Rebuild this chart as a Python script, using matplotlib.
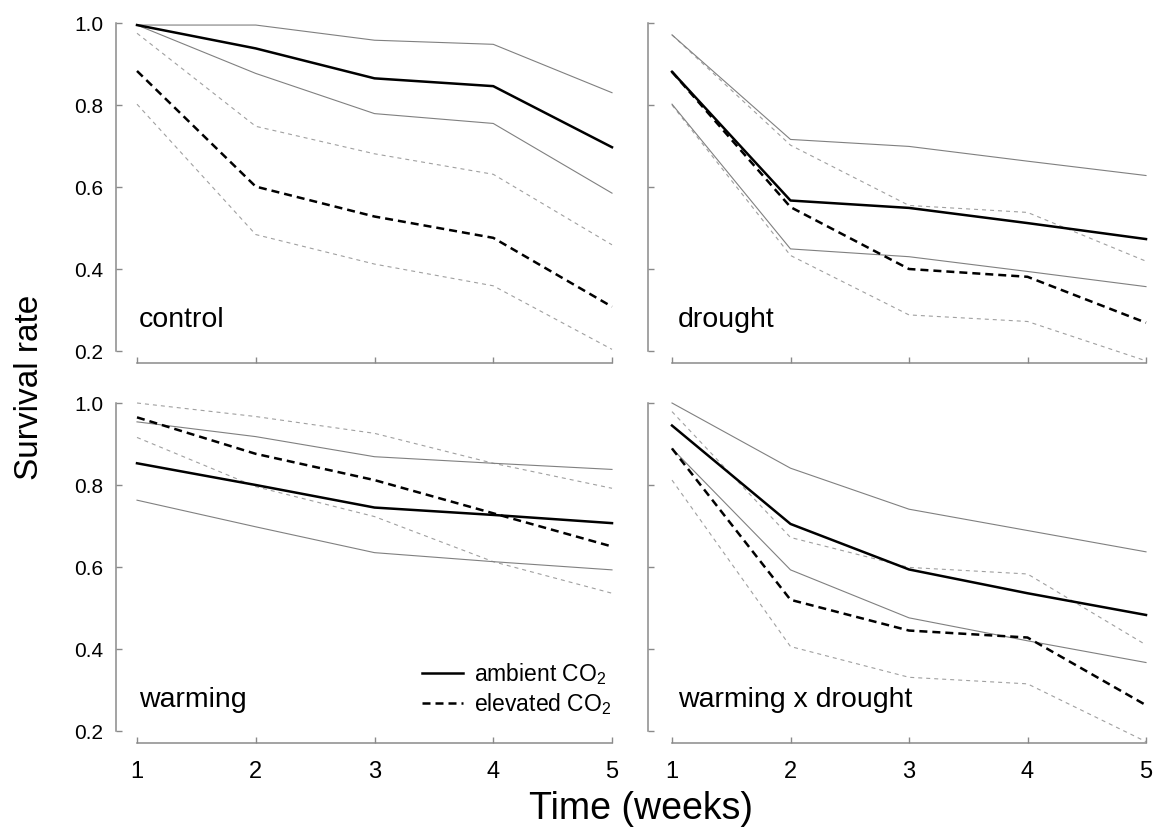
import matplotlib
matplotlib.use("Agg")
import matplotlib.pyplot as plt
from matplotlib.lines import Line2D

plt.rcParams["font.family"] = ["Liberation Sans", "DejaVu Sans"]
plt.rcParams["mathtext.fontset"] = "custom"
plt.rcParams["mathtext.rm"] = "Liberation Sans"
plt.rcParams["mathtext.it"] = "Liberation Sans:italic"

NARROW = ["Liberation Sans Narrow", "Liberation Sans", "DejaVu Sans"]

weeks = [1, 2, 3, 4, 5]
panels = ["control", "drought", "warming", "warming x drought"]

# ambient CO2: mean survival with lower / upper confidence bounds
amb_mean = {
    "control":           [0.995, 0.938, 0.865, 0.846, 0.697],
    "drought":           [0.881, 0.567, 0.549, 0.512, 0.473],
    "warming":           [0.853, 0.800, 0.745, 0.727, 0.707],
    "warming x drought": [0.945, 0.705, 0.594, 0.536, 0.483],
}
amb_upper = {
    "control":           [0.995, 0.995, 0.958, 0.948, 0.830],
    "drought":           [0.971, 0.716, 0.699, 0.663, 0.628],
    "warming":           [0.954, 0.918, 0.869, 0.853, 0.838],
    "warming x drought": [1.000, 0.841, 0.741, 0.689, 0.637],
}
amb_lower = {
    "control":           [0.995, 0.877, 0.779, 0.755, 0.585],
    "drought":           [0.802, 0.449, 0.430, 0.394, 0.357],
    "warming":           [0.763, 0.698, 0.635, 0.613, 0.593],
    "warming x drought": [0.889, 0.593, 0.476, 0.420, 0.367],
}

# elevated CO2: mean survival with lower / upper confidence bounds
elev_mean = {
    "control":           [0.883, 0.601, 0.528, 0.476, 0.308],
    "drought":           [0.881, 0.551, 0.400, 0.381, 0.269],
    "warming":           [0.965, 0.876, 0.812, 0.731, 0.650],
    "warming x drought": [0.889, 0.520, 0.445, 0.428, 0.263],
}
elev_upper = {
    "control":           [0.975, 0.748, 0.681, 0.631, 0.459],
    "drought":           [0.971, 0.702, 0.555, 0.538, 0.419],
    "warming":           [1.000, 0.967, 0.926, 0.853, 0.792],
    "warming x drought": [0.979, 0.672, 0.599, 0.583, 0.410],
}
elev_lower = {
    "control":           [0.802, 0.484, 0.412, 0.359, 0.204],
    "drought":           [0.800, 0.433, 0.288, 0.272, 0.176],
    "warming":           [0.916, 0.796, 0.723, 0.613, 0.536],
    "warming x drought": [0.812, 0.406, 0.331, 0.315, 0.174],
}

x_ticks = [1, 2, 3, 4, 5]
y_ticks = [0.2, 0.4, 0.6, 0.8, 1.0]
y_ticklabels = ["0.2", "0.4", "0.6", "0.8", "1.0"]

W, H = 1156, 830
fig = plt.figure(figsize=(W / 100, H / 100), dpi=100)

# panel boxes in pixels: (x at week 1, x at week 5, y at 1.0, y at 0.2, left spine gap)
boxes = [
    (137, 612, 23, 351, 21),
    (672, 1146, 23, 351, 24),
    (137, 612, 403, 731, 21),
    (672, 1146, 403, 731, 24),
]

spine_col = "#8a8a8a"
ci_amb_col = "#808080"
ci_elev_col = "#a0a0a0"

axes = []
for i, (name, (x0, x1, yt, yb, gap)) in enumerate(zip(panels, boxes)):
    ax = fig.add_axes([x0 / W, 1 - yb / H, (x1 - x0) / W, (yb - yt) / H])
    axes.append(ax)
    ax.set_xlim(1, 5)
    ax.set_ylim(0.2, 1.0)
    ax.patch.set_visible(False)
    for s in ("top", "right"):
        ax.spines[s].set_visible(False)
    for s in ("left", "bottom"):
        ax.spines[s].set_color(spine_col)
        ax.spines[s].set_linewidth(1.1)
    ax.spines["left"].set_position(("outward", gap * 0.72))
    ax.spines["bottom"].set_position(("outward", 12 * 0.72))

    ax.set_xticks(x_ticks)
    ax.set_yticks(y_ticks)
    ax.tick_params(direction="in", length=4, width=1.0, color=spine_col)
    ax.tick_params(axis="y", pad=9, labelsize=15)
    ax.tick_params(axis="x", pad=13, labelsize=17)

    if i % 2 == 0:
        ax.set_yticklabels(y_ticklabels)
    else:
        ax.set_yticklabels([])
    if i >= 2:
        ax.set_xticklabels([str(v) for v in x_ticks], family=NARROW)
    else:
        ax.set_xticklabels([])

    # elevated CO2 bounds (light dashed) and ambient bounds (thin solid)
    for arr in (elev_upper, elev_lower):
        ax.plot(weeks, arr[name], color=ci_elev_col, lw=0.8,
                dashes=(3.6, 3.6), clip_on=False, zorder=2)
    for arr in (amb_upper, amb_lower):
        ax.plot(weeks, arr[name], color=ci_amb_col, lw=0.8,
                clip_on=False, zorder=3)
    ax.plot(weeks, elev_mean[name], color="black", lw=1.8,
            dashes=(3.2, 2.0), clip_on=False, zorder=4)
    ax.plot(weeks, amb_mean[name], color="black", lw=1.8,
            clip_on=False, zorder=5)

    ax.text(0.004 if i % 2 == 0 else 0.012, 0.073, name,
            transform=ax.transAxes, fontsize=20.5, ha="left", va="baseline")

handles = [
    Line2D([], [], color="black", lw=1.8),
    Line2D([], [], color="black", lw=1.8, dashes=(3.2, 2.0)),
]
labels = [r"ambient CO$_2$", r"elevated CO$_2$"]
fig.legend(handles, labels, loc="center left",
           bbox_to_anchor=(422 / W, 1 - 689 / H), frameon=False,
           fontsize=16.5, handlelength=1.8, handletextpad=0.45,
           labelspacing=0.2, borderpad=0, borderaxespad=0)

fig.text(30 / W, 1 - 387 / H, "Survival rate", rotation=90,
         ha="center", va="center", fontsize=24, family=NARROW)
fig.text(641 / W, 1 - 809 / H, "Time (weeks)",
         ha="center", va="center", fontsize=27, family=NARROW)

fig.savefig("out.png", dpi=100)
